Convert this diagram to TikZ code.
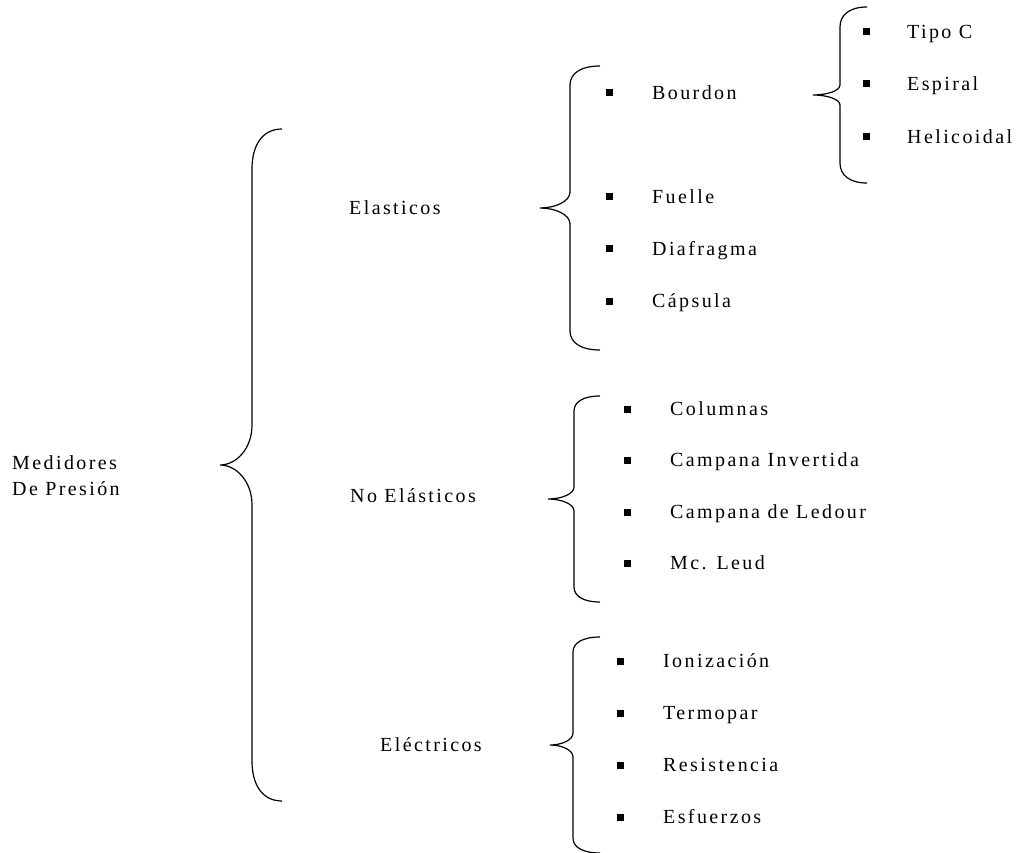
\documentclass[tikz,border=0pt]{standalone}
\usepackage{fontspec}
\setmainfont{Liberation Serif}[LetterSpace=12]
\tikzset{%
  pics/curly/.style={code={%
      \tikzset{curly/.cd,#1}%
      \pgfkeysgetvalue{/tikz/curly/h}\cH
      \pgfkeysgetvalue{/tikz/curly/w}\cW
      \pgfkeysgetvalue{/tikz/curly/e}\cE
      \pgfkeysgetvalue{/tikz/curly/a}\cA
      \pgfkeysgetvalue{/tikz/curly/b}\cB
      % upper arm from its end to the tip, then lower arm
      \draw[curly/line]
        ({\cW+\cE},-\cH) .. controls ({\cW+0.35*\cE},-\cH) and (\cW,{-\cH+0.4*\cA}) .. (\cW,{-\cH+\cA})
        -- (\cW,-\cB) .. controls (\cW,{-0.4*\cB}) and ({0.5*\cW},0) .. (0,0)
        .. controls ({0.5*\cW},0) and (\cW,{0.4*\cB}) .. (\cW,\cB)
        -- (\cW,{\cH-\cA}) .. controls (\cW,{\cH-0.4*\cA}) and ({\cW+0.35*\cE},\cH) .. ({\cW+\cE},\cH);
    }},
  curly/.cd,
  h/.initial=100,
  w/.initial=30,
  e/.initial=30,
  a/.initial=20,
  b/.initial=12,
  line/.style={draw=black,line width=1.2pt},
}
\tikzset{
  txt/.style={font=\fontsize{20}{26}\selectfont,inner sep=0pt,anchor=west,
    text height=13pt,text depth=0pt},
  dot/.style={fill=black,inner sep=0pt,minimum size=7pt},
}

\begin{document}
\begin{tikzpicture}[x=1pt,y=-1pt]
  \useasboundingbox (0,0) rectangle (1023,853);
  % labels of the tree
  \node[txt,text depth=,text height=,anchor=north west,align=left] (root) at (12,455) {Medidores\\De Presión};
  \node[txt] (elast) at (349,208) {Elasticos};
  \node[txt] (noelast) at (350,496) {No Elásticos};
  \node[txt] (electr) at (380,745) {Eléctricos};
  % braces
  \path (220,465) pic{curly={h=336,w=32,e=30,a=40,b=40}};
  \path (540,208) pic{curly={h=142,w=30,e=30,a=19,b=16}};
  \path (813,95) pic{curly={h=88,w=27,e=27,a=20,b=10}};
  \path (548,499) pic{curly={h=103,w=26,e=26,a=15,b=12}};
  \path (550,745) pic{curly={h=108,w=23,e=27,a=15,b=12}};
  % items
  \foreach \txt/\y [count=\i] in {Bourdon/93,Fuelle/197,Diafragma/249,Cápsula/301} {
    \node[dot] (el-b\i) at (609,\y) {};
    \node[txt] (el-\i) at (652,\y) {\txt};
  }
  \foreach \txt/\y [count=\i] in {Tipo C/32,Espiral/84,Helicoidal/137} {
    \node[dot] (bo-b\i) at (866,\y) {};
    \node[txt] (bo-\i) at (907,\y) {\txt};
  }
  \foreach \txt/\y [count=\i] in {Columnas/409,Campana Invertida/460,Campana de Ledour/512,Mc. Leud/563} {
    \node[dot] (ne-b\i) at (627,\y) {};
    \node[txt] (ne-\i) at (670,\y) {\txt};
  }
  \foreach \txt/\y [count=\i] in {Ionización/661,Termopar/713,Resistencia/765,Esfuerzos/817} {
    \node[dot] (ec-b\i) at (620,\y) {};
    \node[txt] (ec-\i) at (663,\y) {\txt};
  }
\end{tikzpicture}
\end{document}
